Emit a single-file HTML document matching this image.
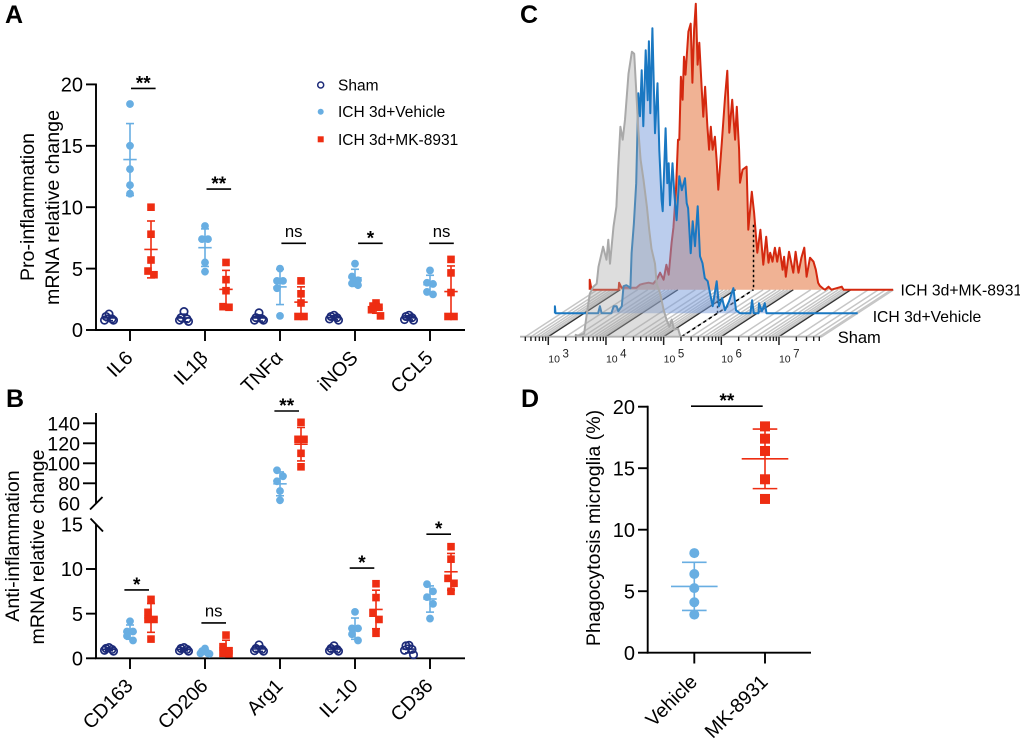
<!DOCTYPE html>
<html lang="en">
<head>
<meta charset="utf-8">
<title>MK-8931 microglia figure</title>
<style>
html,body{margin:0;padding:0;background:#fff;width:1020px;height:740px;overflow:hidden}
svg{display:block;font-family:"Liberation Sans",Arial,sans-serif;filter:blur(0.3px)}
</style>
</head>
<body>
<svg id="fig" width="1020" height="740" viewBox="0 0 1020 740" xmlns="http://www.w3.org/2000/svg">
  <rect width="1020" height="740" fill="#fff"/>
  <text x="5" y="23" font-size="25" font-weight="bold">A</text>
  <text x="6" y="407" font-size="25" font-weight="bold">B</text>
  <text x="520" y="23" font-size="25" font-weight="bold">C</text>
  <text x="521" y="407" font-size="25" font-weight="bold">D</text>

  <text transform="translate(34 207) rotate(-90)" text-anchor="middle" font-size="19.6">Pro-inflammation</text>
  <text transform="translate(59 207.5) rotate(-90)" text-anchor="middle" font-size="19.6">mRNA relative change</text>
  <text transform="translate(19 546) rotate(-90)" text-anchor="middle" font-size="19.6">Anti-inflammation</text>
  <text transform="translate(44 547) rotate(-90)" text-anchor="middle" font-size="19.6">mRNA relative change</text>
  <text transform="translate(600 528) rotate(-90)" text-anchor="middle" font-size="19.6">Phagocytosis microglia (%)</text>

  <g font-size="15.5">
    <circle cx="320.7" cy="85" r="3" fill="none" stroke="#1c2a78" stroke-width="1.5"/>
    <text x="338" y="90.5">Sham</text>
    <circle cx="320.7" cy="111.7" r="3" fill="#68aee2"/>
    <text x="338" y="117">ICH 3d+Vehicle</text>
    <rect x="317.7" y="136.3" width="6" height="6" fill="#ee2d12"/>
    <text x="338" y="145">ICH 3d+MK-8931</text>
  </g>

  <g>
    <text x="900.5" y="295.5" font-size="15.7">ICH 3d+MK-8931</text>
    <text x="872.7" y="322" font-size="15.7">ICH 3d+Vehicle</text>
    <text x="837.7" y="343" font-size="16.5">Sham</text>
  </g>
  <g id="plots"></g>
</svg>
<script>
// Panel A data
var categoriesA = ['IL6', 'IL1β', 'TNFα', 'iNOS', 'CCL5'];
var shamA = [[1.3,1.1,0.9,0.8,0.8],[1.5,1.0,0.9,0.8,0.7],[1.4,1.0,0.9,0.8,0.8],[1.2,1.1,1.0,0.9,0.8],[1.2,1.1,1.0,0.85,0.8]];
var vehicleA = [[18.4,15,13.1,11.8,11.1],[8.47,7.4,7.4,5.5,4.75],[5,4,4,3.4,1.15],[5.4,4.35,4.05,3.8,3.65],[4.85,3.85,3.75,3.1,2.9]];
var mkA = [[10,7.8,5.7,4.8,4.5],[5.5,4.1,3.2,1.9,1.85],[4,2.95,2.2,1.1,1.1],[2.2,1.95,1.85,1.65,1.15],[5.75,4.65,3.05,1.1,1.1]];
var ticksA = [0,5,10,15,20];
var sigLabelsA = ['**','**','ns','*','ns'];
var sigValuesA = [19.67,11.48,7.06,7.06,7.06];

// Panel B data
var categoriesB = ['CD163', 'CD206', 'Arg1', 'IL-10', 'CD36'];
var shamB = [[1.2,1.1,1.0,0.9,0.8],[1.2,1.1,1.0,0.85,0.8],[1.5,1.1,1.0,0.85,0.8],[1.4,1.1,1.0,0.85,0.8],[1.45,1.4,1.0,0.9,0.4]];
var vehicleB = [[4.15,3,3,2.5,2],[1.1,0.8,0.55,0.55,0.5],[93,87,82,72.3,63],[5.2,3.35,3.35,2.7,2],[8.3,7.5,6.85,6.1,4.45]];
var mkB = [[6.6,5.15,4.35,4.35,2.15],[2.6,1.3,0.85,0.55,0.5],[141,124,124,110,96.5],[8.35,6.8,5.05,4.35,2.8],[12.5,11.1,8.95,8.4,7.5]];
var ticksBLow = [0,5,10,15];
var ticksBHigh = [60,80,100,120,140];
var sigLabelsB = ['*','ns','**','*','*'];
var sigValuesB = [7.65,3.96,152.3,10.1,13.9];

// Panel D data
var categoriesD = ['Vehicle', 'MK-8931'];
var vehicleD = [8.1,6.4,5.25,4.1,3.1];
var mkD = [18.4,17.4,16.4,14.1,12.5];
var ticksD = [0,5,10,15,20];
var sigValueD = 20;

// Panel C data: log10 fluorescence and event counts
var redLog = [2.47,2.47,2.5,2.97,2.98,3.02,3.28,3.34,3.40,3.49,3.57,3.63,3.69,3.75,3.80,3.84,3.89,3.92,3.966,4.0,4.023,4.05,4.08,4.105,4.13,4.18,4.22,4.25,4.28,4.31,4.34,4.37,4.41,4.44,4.47,4.51,4.54,4.57,4.60,4.64,4.67,4.70,4.76,4.815,4.855,4.89,4.94,4.99,5.02,5.06,5.075,5.12,5.19,5.22,5.28,5.32,5.375,5.43,5.48,5.53,5.57,5.60,5.64,5.68,5.72,5.76,5.815,5.84,5.87,5.925,6.0,6.04,6.09,6.14,6.19,6.23,6.29,6.35,6.39,6.43,6.46,6.52,6.55,6.61,6.66,6.84,6.87,7.73];
var redCount = [0,10,0,0,7,2,2,5,6,7,6,10,17,10,25,15,47,62,100,150,150,213,190,233,215,258,266,207,260,286,225,247,203,173,203,163,140,163,140,153,130,100,147,192,219,157,190,150,183,140,107,120,123,60,98,77,37,60,25,53,27,37,28,42,28,42,20,33,13,38,17,38,17,32,42,13,32,28,20,7,4,1,0,3,0,3,0,0];
var blueLog = [2.49,2.49,2.5,3.24,3.27,3.30,3.47,3.51,3.56,3.59,3.65,3.68,3.73,3.76,3.80,3.82,3.86,3.90,3.936,3.966,3.995,4.023,4.065,4.10,4.12,4.145,4.18,4.226,4.27,4.30,4.34,4.36,4.41,4.44,4.464,4.486,4.53,4.56,4.60,4.647,4.69,4.746,4.775,4.80,4.845,4.88,4.92,4.966,5.006,5.05,5.09,5.14,5.18,5.227,5.296,5.335,5.39,5.44,5.51,5.585,5.63,5.70,5.88,5.91,5.94,6.02,6.03,6.08,6.13,6.16,7.74];
var blueCount = [0,7,0,0,7,0,0,7,7,2,7,27,28,27,25,60,90,130,220,197,243,187,263,213,272,200,285,180,230,163,113,102,185,130,150,108,150,120,93,137,123,135,110,105,60,92,67,107,57,50,35,32,20,7,32,7,15,3,12,25,3,0,0,13,0,0,10,2,10,0,0];
var grayLog = [3.46,3.52,3.62,3.66,3.72,3.78,3.84,3.87,3.95,4.01,4.04,4.07,4.13,4.18,4.21,4.25,4.29,4.33,4.39,4.45,4.49,4.52,4.56,4.60,4.65,4.71,4.75,4.79,4.85,4.88,4.94,5.00,5.05,5.10,5.14,5.18,5.25,5.29];
var grayCount = [2,1,3,20,43,50,53,70,90,77,97,73,110,130,167,210,197,217,263,285,283,250,207,177,157,130,107,88,73,53,43,27,17,10,17,7,8,0];
var decades = [3,4,5,6,7];
var gateLog = 5.31;
var gateRedCount = 65;

var NS = 'http://www.w3.org/2000/svg';
var root = document.getElementById('plots');
var BLUE = '#68aee2', RED = '#ee2d12', NAVY = '#1c2a78';

function make(tag, attrs, parent, name) {
  var e = document.createElementNS(NS, tag);
  for (var k in attrs) e.setAttribute(k, attrs[k]);
  
  
  (parent || root).appendChild(e);
  return e;
}
function line(x1, y1, x2, y2, color, w, parent, name) {
  return make('line', {x1:x1, y1:y1, x2:x2, y2:y2, stroke:color, 'stroke-width':w}, parent, name);
}
function label(x, y, str, size, anchor, parent, name, extra) {
  var t = make('text', {x:x, y:y, 'font-size':size, 'text-anchor':anchor}, parent, name);
  for (var k in (extra || {})) t.setAttribute(k, extra[k]);
  t.textContent = str;
  return t;
}
function stats(vals) {
  var m = vals.reduce(function (a, b) { return a + b; }, 0) / vals.length;
  var s = 0;
  vals.forEach(function (v) { s += (v - m) * (v - m); });
  return {mean: m, sd: Math.sqrt(s / (vals.length - 1))};
}
function swarm(vals, yFn) {
  var sorted = vals.slice().sort(function (a, b) { return b - a; });
  var out = [], group = [];
  function flush() {
    var n = group.length;
    var five = [0, -3, 3, -4.5, 4.5];
    group.forEach(function (v, i) {
      var dx = 0;
      if (n >= 5) dx = five[i % 5];
      else if (n > 1) dx = i % 2 ? 3 : -3;
      out.push({v: v, dx: dx});
    });
    group = [];
  }
  sorted.forEach(function (v, i) {
    if (i && Math.abs(yFn(v) - yFn(sorted[i - 1])) >= 8) flush();
    group.push(v);
  });
  flush();
  return out;
}
function drawGroup(x, vals, yFn, kind, o, name) {
  var g = make('g', {}, root, name);
  var color = kind === 'sham' ? NAVY : kind === 'vehicle' ? BLUE : RED;
  var st = stats(vals);
  var sw = o.lw || 1.6;
  line(x, yFn(st.mean + st.sd), x, yFn(st.mean - st.sd), color, sw, g, 'error-bar');
  line(x - o.cap, yFn(st.mean + st.sd), x + o.cap, yFn(st.mean + st.sd), color, sw, g, 'error-cap-upper');
  line(x - o.cap, yFn(st.mean - st.sd), x + o.cap, yFn(st.mean - st.sd), color, sw, g, 'error-cap-lower');
  line(x - o.mean, yFn(st.mean), x + o.mean, yFn(st.mean), color, sw, g, 'mean-line');
  swarm(vals, yFn).forEach(function (p) {
    var px = x + p.dx, py = yFn(p.v);
    if (kind === 'sham') make('circle', {cx:px, cy:py, r:3.7, fill:'none', stroke:color, 'stroke-width':1.7}, g, 'sham-point');
    else if (kind === 'vehicle') make('circle', {cx:px, cy:py, r:o.r, fill:color}, g, 'vehicle-point');
    else make('rect', {x:px - o.s, y:py - o.s, width:2 * o.s, height:2 * o.s, fill:color}, g, 'mk8931-point');
  });
}
function sigBar(x1, x2, y, str, parent, name) {
  var g = make('g', {}, parent || root, name);
  line(x1, y, x2, y, '#000', 1.6, g, 'significance-line');
  var cx = (x1 + x2) / 2;
  if (str === 'ns') label(cx, y - 6.5, 'ns', 16.7, 'middle', g, 'significance-text');
  else label(cx, y + 1, str, 19, 'middle', g, 'significance-stars', {'font-weight':'bold'});
}
function xLabel(x, y, str, name) {
  label(x, y, str, 19.6, 'end', root, name, {transform:'rotate(-45 ' + x + ' ' + y + ')'});
}

// Panel A
var AX = 1.9;
var yA = function (v) { return 330 - v * 12.28; };
var xCat = function (i) { return 130 + 75 * i; };
var sigOffsetsA = [13.3, 13.8, 13.7, 15.4, 11.5];
var axA = make('g', {}, root, 'axes-a');
line(96, yA(20) - 0.9, 96, 330.9, '#000', AX, axA, 'y-axis-a');
line(95, 330, 465, 330, '#000', AX, axA, 'x-axis-a');
ticksA.forEach(function (t) {
  line(86, yA(t), 96, yA(t), '#000', AX, axA, 'y-tick-a');
  label(83, yA(t) + 7.2, String(t), 20, 'end', axA, 'y-tick-label-a');
});
categoriesA.forEach(function (c, i) {
  var x = xCat(i);
  line(x, 330, x, 341, '#000', AX, axA, 'x-tick-a');
  xLabel(x + 4, 359, c, 'x-tick-label-' + c);
  var o = {cap:4, mean:6.7, r:3.9, s:3.8};
  drawGroup(x - 21, shamA[i], yA, 'sham', o, 'sham-group-' + c);
  drawGroup(x, vehicleA[i], yA, 'vehicle', o, 'vehicle-group-' + c);
  drawGroup(x + 21, mkA[i], yA, 'mk', o, 'mk8931-group-' + c);
  var cx = x + sigOffsetsA[i];
  sigBar(cx - 12.3, cx + 12.3, yA(sigValuesA[i]), sigLabelsA[i], root, 'significance-' + c);
});

// Panel B
var yB = function (v) { return v >= 60 ? 503.3 - (v - 60) : 658.3 - v * 8.93; };
var sigOffsetsB = [6.7, 8.7, 6.7, 7, 8.7];
var axB = make('g', {}, root, 'axes-b');
line(96, 413, 96, 503, '#000', AX, axB, 'y-axis-b-upper');
line(96, 524, 96, 659, '#000', AX, axB, 'y-axis-b-lower');
line(90, 509.5, 102.5, 497, '#000', AX, axB, 'axis-break-upper');
line(90.5, 518.5, 103, 531.5, '#000', AX, axB, 'axis-break-lower');
line(95, 658.3, 465, 658.3, '#000', AX, axB, 'x-axis-b');
ticksBHigh.forEach(function (t) {
  if (t > 60) line(83, yB(t), 96, yB(t), '#000', AX, axB, 'y-tick-b-upper');
  label(80, yB(t) + 7.2, String(t), 19.6, 'end', axB, 'y-tick-label-b-upper');
});
ticksBLow.forEach(function (t) {
  if (t < 15) line(86, yB(t), 96, yB(t), '#000', AX, axB, 'y-tick-b-lower');
  label(83, yB(t) + 7.2, String(t), 20, 'end', axB, 'y-tick-label-b-lower');
});
categoriesB.forEach(function (c, i) {
  var x = xCat(i);
  line(x, 658.3, x, 669, '#000', AX, axB, 'x-tick-b');
  xLabel(x + 4, 687, c, 'x-tick-label-' + c);
  var o = {cap:4, mean:6.7, r:3.9, s:3.8};
  drawGroup(x - 21, shamB[i], yB, 'sham', o, 'sham-group-' + c);
  drawGroup(x, vehicleB[i], yB, 'vehicle', o, 'vehicle-group-' + c);
  drawGroup(x + 21, mkB[i], yB, 'mk', o, 'mk8931-group-' + c);
  var cx = x + sigOffsetsB[i];
  sigBar(cx - 12.3, cx + 12.3, yB(sigValuesB[i]), sigLabelsB[i], root, 'significance-' + c);
});

// Panel D
var yD = function (v) { return 652.7 - v * 12.3; };
var xD = function (i) { return 694.3 + 70.7 * i; };
var axD = make('g', {}, root, 'axes-d');
line(647.7, yD(20) - 0.9, 647.7, 653.6, '#000', AX, axD, 'y-axis-d');
line(646.8, 652.7, 811, 652.7, '#000', AX, axD, 'x-axis-d');
ticksD.forEach(function (t) {
  line(638, yD(t), 647.7, yD(t), '#000', AX, axD, 'y-tick-d');
  label(635, yD(t) + 7.2, String(t), 20, 'end', axD, 'y-tick-label-d');
});
categoriesD.forEach(function (c, i) {
  line(xD(i), 652.7, xD(i), 663.5, '#000', AX, axD, 'x-tick-d');
  xLabel(xD(i) + 4, 683, c, 'x-tick-label-' + c);
});
var optD = {cap:12.3, mean:23.3, r:5, s:5};
drawGroup(xD(0), vehicleD, yD, 'vehicle', optD, 'vehicle-group-d');
drawGroup(xD(1), mkD, yD, 'mk', optD, 'mk8931-group-d');
sigBar(691, 762.7, yD(sigValueD) - 0.5, '**', root, 'significance-d');

// Panel C: pseudo-3D stacked histograms
var xFlow = function (log, depth) { return 548.3 + (log - 3) * 57.67 + depth * 72; };
var yFlow = function (count, depth) { return 336.7 - depth * 47 - count; };
var floorG = make('g', {}, root, 'flow-floor');
var LOG_MIN = 2.51, LOG_MAX = 7.74;
[2,3,4,5,6,7].forEach(function (d) {
  [2,3,4,5,6,7,8,9].forEach(function (m) {
    var lg = d + Math.log10(m);
    if (lg < LOG_MIN || lg > LOG_MAX) return;
    line(xFlow(lg, 0), yFlow(0, 0), xFlow(lg, 1), yFlow(0, 1), '#c6c6c6', 1.5, floorG, 'flow-grid-minor');
  });
});
decades.forEach(function (d) {
  line(xFlow(d, 0), yFlow(0, 0), xFlow(d, 1), yFlow(0, 1), '#333', 1.4, floorG, 'flow-grid-decade');
});
line(xFlow(LOG_MAX, 0), yFlow(0, 0), xFlow(LOG_MAX, 1), yFlow(0, 1), '#c6c6c6', 1.5, floorG, 'flow-grid-edge');

function histogram(logs, counts, depth, fill, stroke, name) {
  var g = make('g', {}, root, name);
  var pts = logs.map(function (l, i) { return xFlow(l, depth).toFixed(1) + ',' + yFlow(counts[i], depth).toFixed(1); });
  var first = xFlow(logs[0], depth).toFixed(1) + ',' + yFlow(0, depth).toFixed(1);
  var last = xFlow(logs[logs.length - 1], depth).toFixed(1) + ',' + yFlow(0, depth).toFixed(1);
  make('polygon', {points:first + ' ' + pts.join(' ') + ' ' + last, fill:fill, stroke:'none'}, g, 'histogram-fill');
  make('polyline', {points:pts.join(' '), fill:'none', stroke:stroke, 'stroke-width':2, 'stroke-linejoin':'round'}, g, 'histogram-outline');
}
histogram(redLog, redCount, 1, 'rgba(232,137,90,0.65)', '#d4280f', 'histogram-mk8931');
var gateG = make('g', {}, root, 'flow-gate');
line(xFlow(gateLog, 1), yFlow(gateRedCount, 1), xFlow(gateLog, 1), yFlow(0, 1), '#000', 1.5, gateG, 'gate-vertical-back').setAttribute('stroke-dasharray', '2.5,2.5');
histogram(blueLog, blueCount, 0.5, 'rgba(120,155,220,0.5)', '#1a78c2', 'histogram-vehicle');
histogram(grayLog, grayCount, 0, 'rgba(165,165,165,0.38)', '#a9a9a9', 'histogram-sham');
line(xFlow(gateLog, 0), yFlow(0, 0), xFlow(gateLog, 1), yFlow(0, 1), '#000', 1.5, gateG, 'gate-diagonal').setAttribute('stroke-dasharray', '3.5,3');
line(xFlow(gateLog, 0.5), yFlow(0, 0.5), xFlow(gateLog, 0.5), yFlow(0, 1), '#000', 1.5, gateG, 'gate-vertical-mid').setAttribute('stroke-dasharray', '2.5,2.5');

var axC = make('g', {}, root, 'flow-axis');
line(xFlow(LOG_MIN, 0), 336.7, xFlow(LOG_MAX, 0), 336.7, '#b0b0b0', 1.8, axC, 'flow-x-axis');
[2,3,4,5,6,7].forEach(function (d) {
  [2,3,4,5,6,7,8,9].forEach(function (m) {
    var lg = d + Math.log10(m);
    if (lg < LOG_MIN || lg > LOG_MAX) return;
    line(xFlow(lg, 0), 336.7, xFlow(lg, 0), 341, '#222', 1.4, axC, 'flow-minor-tick');
  });
});
decades.forEach(function (d) {
  var x = xFlow(d, 0);
  line(x, 336.7, x, 345, '#222', 1.5, axC, 'flow-major-tick');
  var t = label(x, 362.5, '10', 10.5, 'start', axC, 'flow-tick-label', {fill:'#222'});
  var s = make('tspan', {dx:2.5, dy:-5, 'font-size':11.5}, t, 'flow-tick-exponent');
  s.textContent = String(d);
});
</script>
</body>
</html>
